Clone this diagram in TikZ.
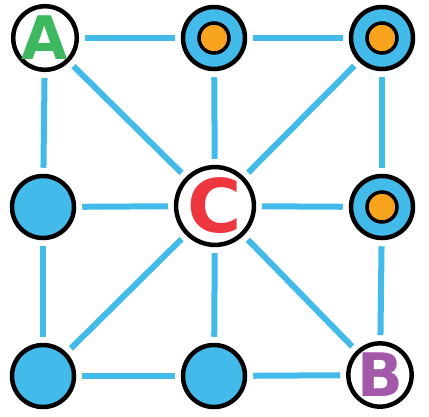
\documentclass[tikz,border=0pt]{standalone}
\usepackage{fontspec}
\newfontfamily\letterfont{DejaVu Sans}[BoldFont={DejaVu Sans Bold}]
\definecolor{edgeblue}{RGB}{66,186,234}
\definecolor{dotorange}{RGB}{247,163,30}
\definecolor{agreen}{RGB}{61,184,94}
\definecolor{cred}{RGB}{238,54,62}
\definecolor{bpurple}{RGB}{164,88,170}

\begin{document}
\begin{tikzpicture}[x=1pt, y=-1pt,
    spot/.style={circle, draw=black, line width=4.5pt, fill=edgeblue, minimum size=62pt, inner sep=0pt},
    endspot/.style={spot, fill=white, font=\letterfont\bfseries\fontsize{60}{60}\selectfont},
    core/.style={circle, draw=black, line width=3.5pt, fill=dotorange, minimum size=30pt, inner sep=0pt},
    link/.style={edgeblue, line width=6pt, shorten >=6pt, shorten <=6pt}]
    \useasboundingbox (0,0) rectangle (429,416);

    % Grid of spots
    \node[endspot, text=agreen] (A) at (45,38) {A};
    \node[spot] (tm) at (214,38) {};
    \node[spot] (tr) at (382,38) {};
    \node[spot] (ml) at (43,207) {};
    \node[endspot, text=cred, minimum size=70pt, font=\letterfont\bfseries\fontsize{74}{74}\selectfont] (C) at (215,206) {C};
    \node[spot] (mr) at (382,207) {};
    \node[spot] (bl) at (43,376) {};
    \node[spot] (bm) at (214,376) {};
    \node[endspot, text=bpurple] (B) at (380,375) {B};

    % Orange cores
    \node[core] (tmc) at (tm) {};
    \node[core] (trc) at (tr) {};
    \node[core] (mrc) at (mr) {};

    % Connections
    \draw[link] (A) -- (tm);
    \draw[link] (tm) -- (tr);
    \draw[link] (A) -- (ml);
    \draw[link] (tr) -- (mr);
    \draw[link] (ml) -- (bl);
    \draw[link] (mr) -- (B);
    \draw[link] (bl) -- (bm);
    \draw[link] (bm) -- (B);
    \foreach \n in {A, tm, tr, ml, mr, bl, bm, B}
        \draw[link] (C) -- (\n);
\end{tikzpicture}
\end{document}
